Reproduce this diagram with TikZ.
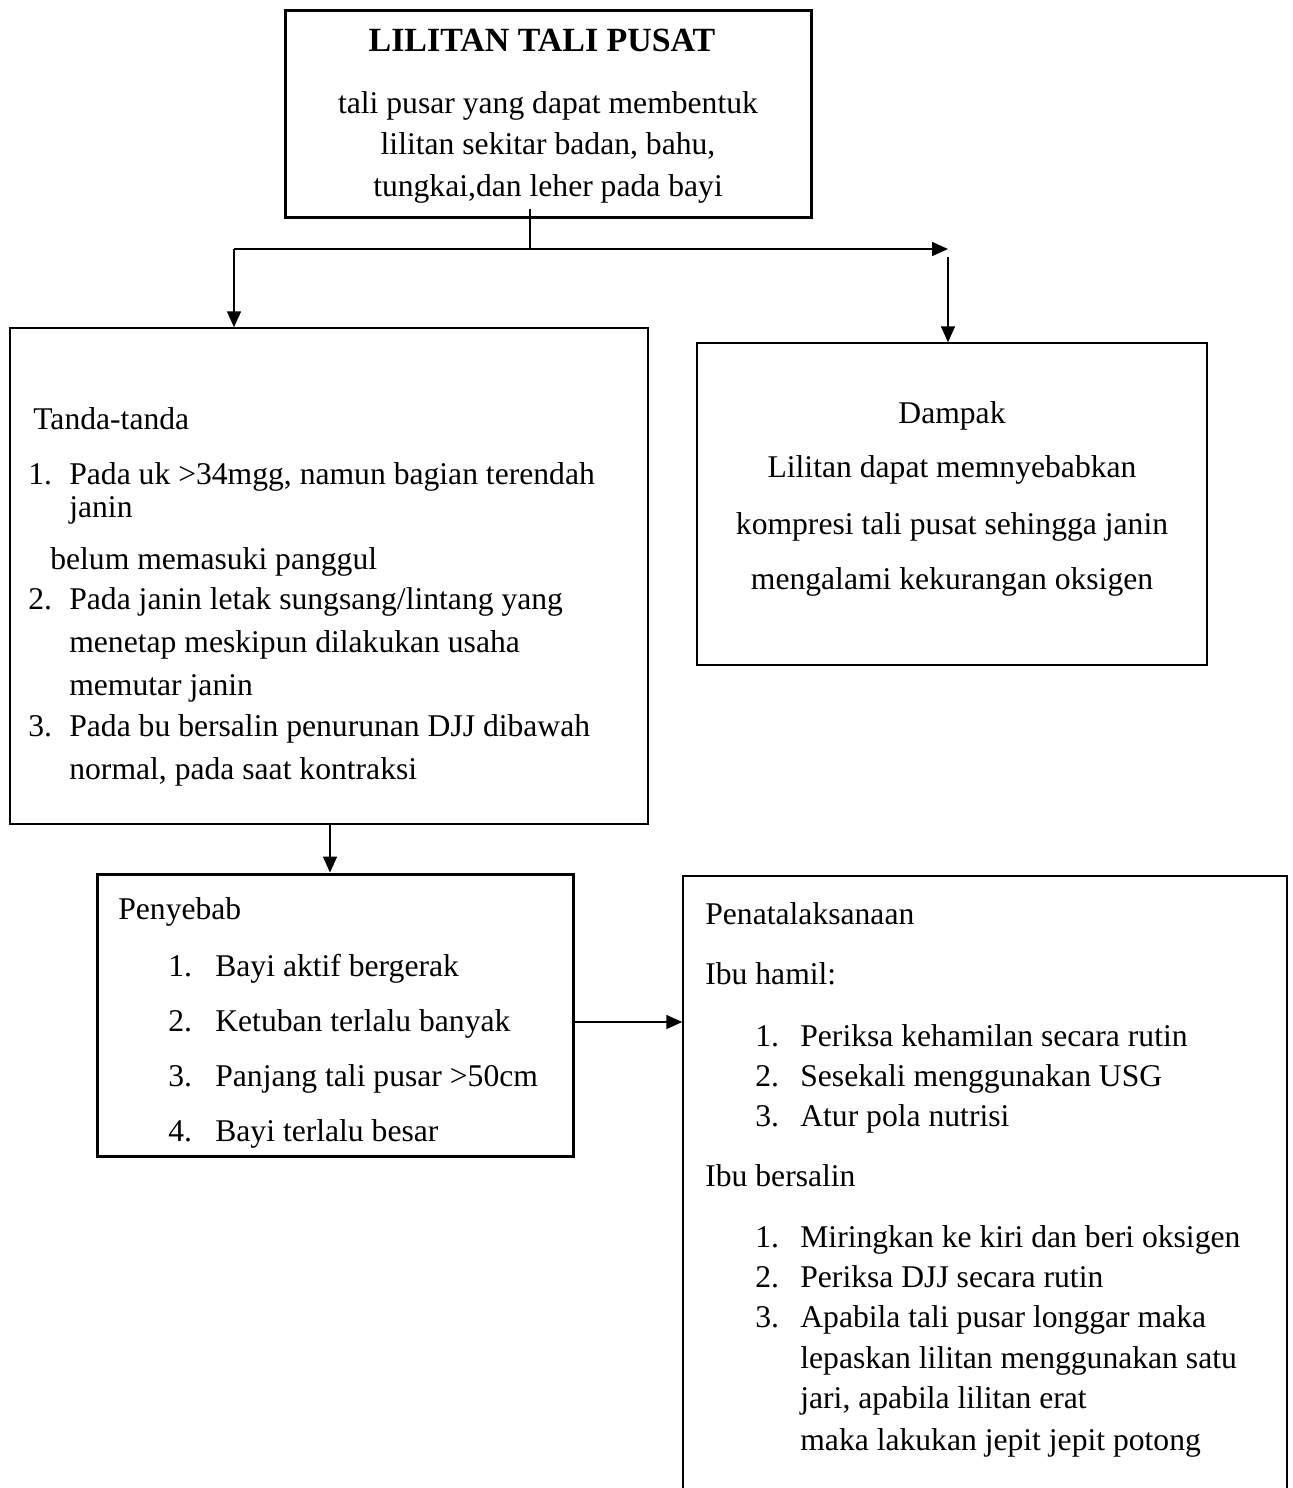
\documentclass[tikz,border=0pt]{standalone}
\usepackage{fontspec}
\setmainfont{Liberation Serif}
\usetikzlibrary{arrows.meta}
\tikzset{
  box/.style={draw, line width=0.9pt, inner sep=0pt},
  boldbox/.style={draw, line width=1.7pt, inner sep=0pt},
  txt/.style={anchor=base west, inner sep=0pt, font=\fontsize{18}{22}\selectfont},
  ctxt/.style={txt, anchor=base},
  conn/.style={line width=0.9pt},
  boldconn/.style={line width=1.7pt},
  arr/.style={conn, -{Triangle[length=0.32cm,width=0.28cm]}}
}
\begin{document}
\begin{tikzpicture}[x=0.02cm,y=-0.02cm]
\useasboundingbox (0,0) rectangle (1293,1488);
% kotak
\node[boldbox, minimum width=10.54cm, minimum height=4.16cm] (lilitan) at (548.5,114) {};
\node[box, minimum width=12.76cm, minimum height=9.92cm] (tanda) at (329,576) {};
\node[box, minimum width=10.2cm, minimum height=6.44cm] (dampak) at (952,504) {};
\node[boldbox, minimum width=9.54cm, minimum height=5.66cm] (penyebab) at (335.5,1015.5) {};
\node[box, minimum width=12.08cm, minimum height=12.88cm] (pena) at (985,1198) {};
% titik belok
\coordinate (j) at (530,249);
\coordinate (jl) at (234,249);
\coordinate (jr) at (948,249);
\coordinate (jd) at (948,257);
\coordinate (tp) at (330,0);
\coordinate (ay) at (0,1022);
% panah
\draw[conn] ([yshift=0.2cm]j |- lilitan.south) -- (j);
\draw[boldconn] (j) -- (jl);
\draw[arr] (jl) -- (jl |- tanda.north);
\draw[arr] (j) -- (jr);
\draw[arr] (jd) -- (jd |- dampak.north);
\draw[arr] (tp |- tanda.south) -- (tp |- penyebab.north);
\draw[arr] (penyebab.east |- ay) -- (pena.west |- ay);
% lilitan tali pusat
\node[ctxt, font=\fontsize{19.3}{22}\selectfont\bfseries] (judul) at (542,51) {LILITAN TALI PUSAT};
\node[ctxt] (def1) at (548,113) {tali pusar yang dapat membentuk};
\node[ctxt] (def2) at (548,154) {lilitan sekitar badan, bahu,};
\node[ctxt] (def3) at (548,196) {tungkai,dan leher pada bayi};
% tanda-tanda
\node[txt] (tanda0) at (33,429) {Tanda-tanda};
\node[txt] (tn1) at (28,484) {1.};
\node[txt] (tt1) at (69,484) {Pada uk >34mgg, namun bagian terendah};
\node[txt] (tt1b) at (69,517) {janin};
\node[txt] (tt1c) at (50,569) {belum memasuki panggul};
\node[txt] (tn2) at (28,609) {2.};
\node[txt] (tt2) at (69,609) {Pada janin letak sungsang/lintang yang};
\node[txt] (tt2b) at (69,652) {menetap meskipun dilakukan usaha};
\node[txt] (tt2c) at (69,695) {memutar janin};
\node[txt] (tn3) at (28,736) {3.};
\node[txt] (tt3) at (69,736) {Pada bu bersalin penurunan DJJ dibawah};
\node[txt] (tt3b) at (69,779) {normal, pada saat kontraksi};
% dampak
\node[ctxt] (dampak0) at (952,423) {Dampak};
\node[ctxt] (dk1) at (952,477) {Lilitan dapat memnyebabkan};
\node[ctxt] (dk2) at (952,534) {kompresi tali pusat sehingga janin};
\node[ctxt] (dk3) at (952,589) {mengalami kekurangan oksigen};
% penyebab
\node[txt] (penyebab0) at (118,919) {Penyebab};
\foreach \n/\y/\t in {1/976/Bayi aktif bergerak, 2/1031/Ketuban terlalu banyak,
    3/1086/Panjang tali pusar >50cm, 4/1141/Bayi terlalu besar}{
  \node[txt] (pn\n) at (168,\y) {\n.};
  \node[txt] (pt\n) at (215,\y) {\t};
}
% penatalaksanaan
\node[txt] (pena0) at (705,924) {Penatalaksanaan};
\node[txt] (hamil) at (705,984) {Ibu hamil:};
\foreach \n/\y/\t in {1/1046/Periksa kehamilan secara rutin, 2/1086/Sesekali menggunakan USG,
    3/1126/Atur pola nutrisi}{
  \node[txt] (hn\n) at (755,\y) {\n.};
  \node[txt] (ht\n) at (800,\y) {\t};
}
\node[txt] (salin) at (705,1186) {Ibu bersalin};
\foreach \n/\y/\t in {1/1247/Miringkan ke kiri dan beri oksigen, 2/1287/Periksa DJJ secara rutin,
    3/1327/Apabila tali pusar longgar maka}{
  \node[txt] (sn\n) at (755,\y) {\n.};
  \node[txt] (st\n) at (800,\y) {\t};
}
\node[txt] (st3b) at (800,1368) {lepaskan lilitan menggunakan satu};
\node[txt] (st3c) at (800,1408) {jari, apabila lilitan erat};
\node[txt] (st3d) at (800,1450) {maka lakukan jepit jepit potong};
\end{tikzpicture}
\end{document}
